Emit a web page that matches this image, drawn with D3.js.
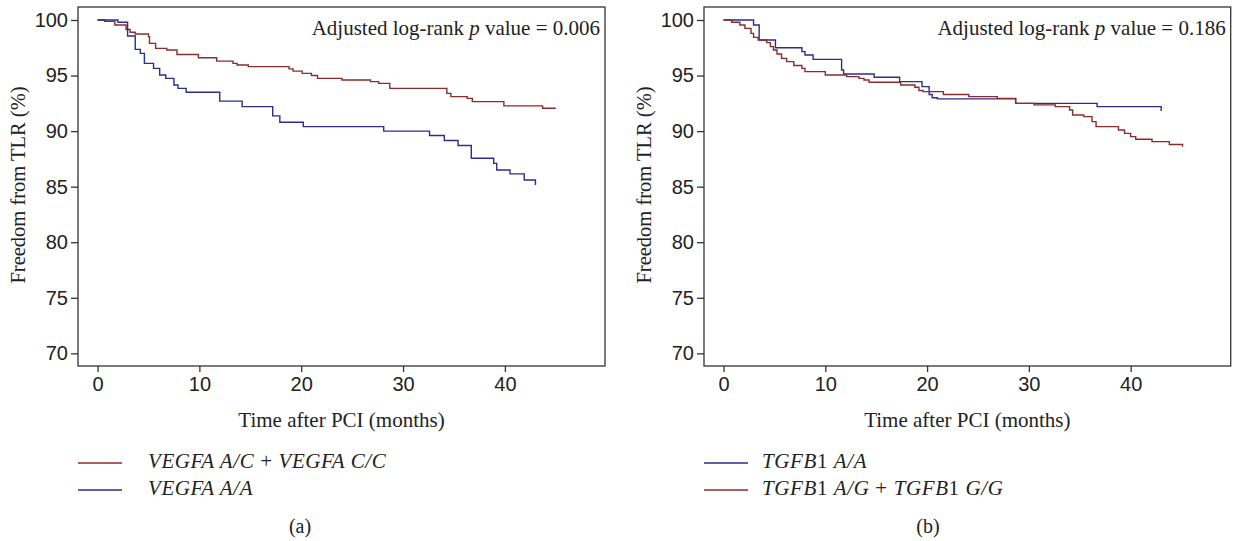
<!DOCTYPE html>
<html lang="en">
<head>
<meta charset="UTF-8">
<title>Freedom from TLR</title>
<script src="https://cdnjs.cloudflare.com/ajax/libs/d3/7.8.5/d3.min.js"></script>
<style>
    body { margin: 0; background: #fff; }
    svg { font-family: 'Liberation Serif', 'DejaVu Serif', serif; }
    .axis text { font-size: 20px; fill: #222; }
    .axis path, .axis line { stroke: #333; stroke-width: 1.3px; }
</style>
</head>
<body>
<svg id="chart" width="1235" height="541"></svg>
<script>
// Kaplan-Meier step curves (months, % free from TLR)
const xTicks = [0, 10, 20, 30, 40];
const yTicks = [70, 75, 80, 85, 90, 95, 100];

// panel (a)
const vegfaAC_t = [0, 0.7, 1.7, 2.8, 3.2, 3.7, 5.0, 5.1, 5.7, 6.8, 7.8, 9.9, 11.7, 13.3, 13.7, 14.8, 18.8, 19.2, 20.1, 21.0, 21.6, 24.0, 26.8, 27.6, 28.7, 34.3, 34.7, 36.3, 36.8, 39.9, 43.7, 45.0];
const vegfaAC_s = [100, 99.88, 99.55, 99.15, 98.9, 98.74, 98.5, 97.9, 97.45, 97.3, 96.9, 96.6, 96.3, 96.1, 95.95, 95.8, 95.6, 95.4, 95.2, 95.0, 94.75, 94.6, 94.45, 94.3, 93.85, 93.4, 93.1, 92.95, 92.65, 92.27, 92.06, 92.06];
const vegfaAA_t = [0, 2.0, 2.95, 3.7, 4.2, 4.6, 5.5, 6.1, 6.7, 7.5, 7.9, 8.7, 12.0, 14.2, 17.2, 17.9, 20.2, 28.1, 32.6, 34.05, 35.4, 36.7, 38.9, 39.2, 40.5, 41.9, 43.0, 43.0];
const vegfaAA_s = [100, 99.8, 98.56, 97.36, 97.0, 96.1, 95.65, 95.05, 94.75, 94.15, 93.85, 93.5, 92.7, 92.2, 91.37, 90.8, 90.4, 90.0, 89.6, 89.15, 88.7, 87.56, 87.1, 86.5, 86.15, 85.6, 85.6, 85.16];

// panel (b)
const tgfbAA_t = [0, 2.95, 3.5, 5.1, 7.7, 8.0, 8.8, 11.6, 11.8, 14.8, 17.3, 19.5, 20.2, 20.5, 21.0, 28.7, 36.7, 43.0, 43.0];
const tgfbAA_s = [100, 99.55, 98.2, 97.5, 97.15, 96.85, 96.46, 95.5, 95.14, 94.85, 94.45, 94.0, 93.3, 93.0, 92.9, 92.5, 92.2, 92.2, 91.8];
const tgfbAG_t = [0, 0.8, 1.6, 2.1, 2.7, 2.95, 3.4, 4.25, 4.6, 4.9, 5.25, 5.7, 6.2, 6.9, 7.7, 8.0, 10.0, 12.1, 13.3, 13.8, 14.3, 17.4, 18.8, 19.2, 19.6, 21.6, 24.1, 26.9, 28.7, 30.5, 32.6, 34.0, 34.3, 35.4, 36.2, 36.6, 38.8, 39.4, 40.0, 40.5, 42.1, 43.8, 45.1, 45.1];
const tgfbAG_s = [100, 99.8, 99.55, 99.25, 98.8, 98.44, 98.2, 97.96, 97.6, 97.3, 96.94, 96.55, 96.25, 95.9, 95.65, 95.35, 95.05, 94.9, 94.75, 94.6, 94.4, 94.15, 93.95, 93.65, 93.55, 93.3, 93.1, 92.95, 92.5, 92.36, 92.2, 91.9, 91.45, 91.3, 90.85, 90.4, 90.1, 89.8, 89.5, 89.27, 89.05, 88.8, 88.8, 88.6];

const red = "#8b2c2c";
const blue = "#2d2d8e";

const svg = d3.select("#chart");

function drawPanel(opt) {
    const x = d3.scaleLinear().domain([-1.92, 49.83]).range([opt.left, opt.right]);
    const y = d3.scaleLinear().domain([68.86, 101.17]).range([366, 7]);
    const g = svg.append("g");

    g.append("g")
        .attr("class", "axis")
        .attr("transform", "translate(0,366)")
        .call(d3.axisBottom(x).tickValues(xTicks).tickSize(6).tickPadding(5).tickSizeOuter(0))
        .call(s => s.select(".domain").remove());
    g.append("g")
        .attr("class", "axis")
        .attr("transform", `translate(${opt.left},0)`)
        .call(d3.axisLeft(y).tickValues(yTicks).tickSize(7).tickPadding(3).tickSizeOuter(0))
        .call(s => s.select(".domain").remove());

    g.append("rect")
        .attr("x", opt.left).attr("y", 7)
        .attr("width", opt.right - opt.left).attr("height", 359)
        .attr("fill", "none").attr("stroke", "#333").attr("stroke-width", 1.3);

    const line = d3.line()
        .x(d => x(d[0])).y(d => y(d[1]))
        .curve(d3.curveStepAfter);

    opt.series.forEach(s => {
        g.append("path")
            .datum(d3.zip(s.t, s.s))
            .attr("fill", "none")
            .attr("stroke", s.color)
            .attr("stroke-width", 1.4)
            .attr("d", line);
    });

    // p value note
    const pv = g.append("text")
        .attr("x", opt.right - 5).attr("y", 35)
        .attr("text-anchor", "end")
        .attr("font-size", 21).attr("fill", "#222");
    pv.append("tspan").text("Adjusted log-rank ");
    pv.append("tspan").attr("font-style", "italic").text("p");
    pv.append("tspan").text(" value = " + opt.pvalue);

    // axis titles
    g.append("text")
        .attr("transform", `translate(${opt.left - 60},${185}) rotate(-90)`)
        .attr("text-anchor", "middle")
        .attr("dominant-baseline", "central")
        .attr("font-size", 20.5).attr("fill", "#222")
        .text("Freedom from TLR (%)");
    g.append("text")
        .attr("x", (opt.left + opt.right) / 2).attr("y", 427)
        .attr("text-anchor", "middle")
        .attr("font-size", 21).attr("fill", "#222")
        .text("Time after PCI (months)");

    // legend
    opt.legend.forEach((d, i) => {
        const ly = 463 + i * 27;
        g.append("line")
            .attr("x1", opt.legendX).attr("x2", opt.legendX + 44)
            .attr("y1", ly).attr("y2", ly)
            .attr("stroke", d.color).attr("stroke-width", 1.4);
        const t = g.append("text")
            .attr("x", opt.legendTextX).attr("y", ly + 5)
            .attr("font-size", 21).attr("letter-spacing", 0.6).attr("fill", "#222");
        d.parts.forEach(p => {
            t.append("tspan").attr("font-style", p[1] ? "italic" : "normal").text(p[0]);
        });
    });

    g.append("text")
        .attr("x", opt.capX).attr("y", 533)
        .attr("text-anchor", "middle")
        .attr("font-size", 20).attr("fill", "#222")
        .text(opt.caption);
}

drawPanel({
    left: 78, right: 605, pvalue: "0.006",
    series: [
        { t: vegfaAC_t, s: vegfaAC_s, color: red },
        { t: vegfaAA_t, s: vegfaAA_s, color: blue }
    ],
    legendX: 78, legendTextX: 148,
    legend: [
        { color: red, parts: [["VEGFA A/C", true], [" + ", false], ["VEGFA C/C", true]] },
        { color: blue, parts: [["VEGFA A/A", true]] }
    ],
    capX: 300, caption: "(a)"
});

drawPanel({
    left: 704, right: 1230.7, pvalue: "0.186",
    series: [
        { t: tgfbAA_t, s: tgfbAA_s, color: blue },
        { t: tgfbAG_t, s: tgfbAG_s, color: red }
    ],
    legendX: 704, legendTextX: 762,
    legend: [
        { color: blue, parts: [["TGFB", true], ["1 ", false], ["A/A", true]] },
        { color: red, parts: [["TGFB", true], ["1 ", false], ["A/G", true], [" + ", false], ["TGFB", true], ["1 ", false], ["G/G", true]] }
    ],
    capX: 928, caption: "(b)"
});
</script>
</body>
</html>
